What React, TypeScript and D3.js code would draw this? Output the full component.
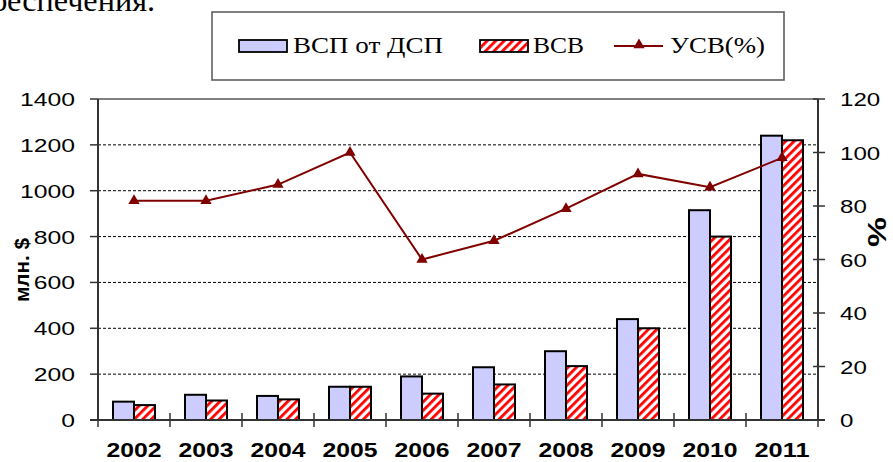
import React from "react";
import * as d3 from "d3";

const years = ["2002", "2003", "2004", "2005", "2006", "2007", "2008", "2009", "2010", "2011"];
const vspValues = [80, 110, 105, 145, 190, 230, 300, 440, 915, 1240];
const vsvValues = [65, 85, 90, 145, 115, 155, 235, 400, 800, 1220];
const usvValues = [82, 82, 88, 100, 60, 67, 79, 92, 87, 98];
const leftTicks = [0, 200, 400, 600, 800, 1000, 1200, 1400];
const rightTicks = [0, 20, 40, 60, 80, 100, 120];
const seriesNames = ["ВСП от ДСП", "ВСВ", "УСВ(%)"];

const W = 893;
const H = 462;
const PL = 98;
const PR = 818;
const PT = 99;
const PB = 420;

const SANS = "Arial, 'Liberation Sans', sans-serif";
const SERIF = "'Times New Roman', 'Liberation Serif', serif";
const LINE = "#800000";

function T(props: any) {
  const { x, y, len, anchor = "start", size, weight = "normal", family = SANS, children, rotate } = props;
  if (rotate) {
    return (
      <text
        transform={`translate(${x},${y}) rotate(-90)`}
        textAnchor="middle"
        fontSize={size}
        fontWeight={weight}
        fontFamily={family}
        textLength={len}
        lengthAdjust="spacingAndGlyphs"
        fill="#000"
      >
        {children}
      </text>
    );
  }
  return (
    <text
      x={x}
      y={y}
      textAnchor={anchor}
      fontSize={size}
      fontWeight={weight}
      fontFamily={family}
      textLength={len}
      lengthAdjust="spacingAndGlyphs"
      fill="#000"
    >
      {children}
    </text>
  );
}

export default function App() {
  const x = d3.scaleBand<string>().domain(years).range([PL, PR]).paddingInner(0).paddingOuter(0);
  const sub = d3
    .scaleBand<string>()
    .domain(["vsp", "vsv"])
    .range([0, x.bandwidth()])
    .paddingInner(0)
    .paddingOuter(0.714);
  const yL = d3.scaleLinear().domain([0, 1400]).range([PB, PT]);
  const yR = d3.scaleLinear().domain([0, 120]).range([PB, PT]);

  const line = d3
    .line<number>()
    .x((_, i) => (x(years[i]) as number) + x.bandwidth() / 2)
    .y((d) => yR(d));

  const tri = d3.symbol().type(d3.symbolTriangle).size(55)();

  const catEdges = years.map((y) => x(y) as number).concat([PR]);

  return (
    <svg
      width={W}
      height={H}
      style={{ position: "absolute", left: 0, top: 0, background: "#fff" }}
      xmlns="http://www.w3.org/2000/svg"
    >
      <defs>
        <pattern id="hatch" patternUnits="userSpaceOnUse" width="6" height="6" patternTransform="rotate(45)">
          <rect x="0" y="0" width="6" height="6" fill="#fff" />
          <rect x="0" y="0" width="2.8" height="6" fill="#ff0000" />
        </pattern>
      </defs>
      <rect x={0} y={0} width={W} height={H} fill="#fff" />

      {/* clipped paragraph text at top */}
      <T x={155} y={11} anchor="end" size={32} family={SERIF} len={180}>
        обеспечения.
      </T>

      {/* legend */}
      <rect x={212} y={12} width={572} height={68} fill="#fff" stroke="#555" strokeWidth={1.5} />
      <rect x={239} y={40} width={48} height={12} fill="#ccccff" stroke="#000" strokeWidth={1.8} />
      <T x={293} y={53} size={23} family={SERIF} len={150}>
        {seriesNames[0]}
      </T>
      <rect x={480} y={40} width={48} height={12} fill="url(#hatch)" stroke="#000" strokeWidth={1.8} />
      <T x={533} y={53} size={23} family={SERIF} len={51}>
        {seriesNames[1]}
      </T>
      <line x1={614} x2={663} y1={46} y2={46} stroke={LINE} strokeWidth={2} />
      <path d={tri as string} transform={`translate(639,45)`} fill={LINE} />
      <T x={670} y={53} size={23} family={SERIF} len={95}>
        {seriesNames[2]}
      </T>

      {/* gridlines */}
      {leftTicks
        .filter((t) => t > 0 && t < 1400)
        .map((t) => (
          <line key={t} x1={PL} x2={PR} y1={yL(t)} y2={yL(t)} stroke="#000" strokeWidth={1} strokeDasharray="3,2" />
        ))}
      {/* top border */}
      <line x1={PL} x2={PR} y1={PT} y2={PT} stroke="#808080" strokeWidth={2} />

      {/* bars */}
      {years.map((yr, i) => {
        const bx = x(yr) as number;
        return (
          <g key={yr}>
            <rect
              x={bx + (sub("vsp") as number)}
              y={yL(vspValues[i])}
              width={sub.bandwidth()}
              height={PB - yL(vspValues[i])}
              fill="#ccccff"
              stroke="#000"
              strokeWidth={2}
            />
            <rect
              x={bx + (sub("vsv") as number)}
              y={yL(vsvValues[i])}
              width={sub.bandwidth()}
              height={PB - yL(vsvValues[i])}
              fill="url(#hatch)"
              stroke="#000"
              strokeWidth={2}
            />
          </g>
        );
      })}

      {/* axes */}
      <line x1={PL} x2={PL} y1={PT} y2={PB} stroke="#333" strokeWidth={2} />
      <line x1={PR} x2={PR} y1={PT} y2={PB} stroke="#333" strokeWidth={2} />
      <line x1={PL - 8} x2={PR + 7} y1={PB} y2={PB} stroke="#333" strokeWidth={2} />
      {leftTicks.map((t) => (
        <g key={"lt" + t}>
          <line x1={PL - 8} x2={PL} y1={yL(t)} y2={yL(t)} stroke="#333" strokeWidth={1.5} />
          <T x={75} y={yL(t) + 7} anchor="end" size={19} len={String(t).length * 13.75}>
            {String(t)}
          </T>
        </g>
      ))}
      {rightTicks.map((t) => (
        <g key={"rt" + t}>
          <line x1={PR - 5} x2={PR + 7} y1={yR(t)} y2={yR(t)} stroke="#333" strokeWidth={1.5} />
          <T x={840} y={yR(t) + 7} anchor="start" size={19} len={String(t).length * 13.4}>
            {String(t)}
          </T>
        </g>
      ))}
      {catEdges.map((cx, i) => (
        <line key={"ct" + i} x1={cx} x2={cx} y1={i === 0 ? PB : PB - 7} y2={PB + 7} stroke="#333" strokeWidth={1.5} />
      ))}
      {years.map((yr) => (
        <T key={"yl" + yr} x={(x(yr) as number) + x.bandwidth() / 2} y={457} anchor="middle" size={21} weight="bold" len={55}>
          {yr}
        </T>
      ))}

      {/* axis titles */}
      <T x={29} y={270} rotate size={20} weight="bold" len={64}>
        млн. $
      </T>
      <T x={886} y={232} rotate size={26} weight="bold" len={30}>
        %
      </T>

      {/* line series */}
      <path d={line(usvValues) as string} fill="none" stroke={LINE} strokeWidth={2} />
      {usvValues.map((v, i) => (
        <path
          key={"m" + i}
          d={tri as string}
          transform={`translate(${(x(years[i]) as number) + x.bandwidth() / 2},${yR(v)})`}
          fill={LINE}
        />
      ))}
    </svg>
  );
}
